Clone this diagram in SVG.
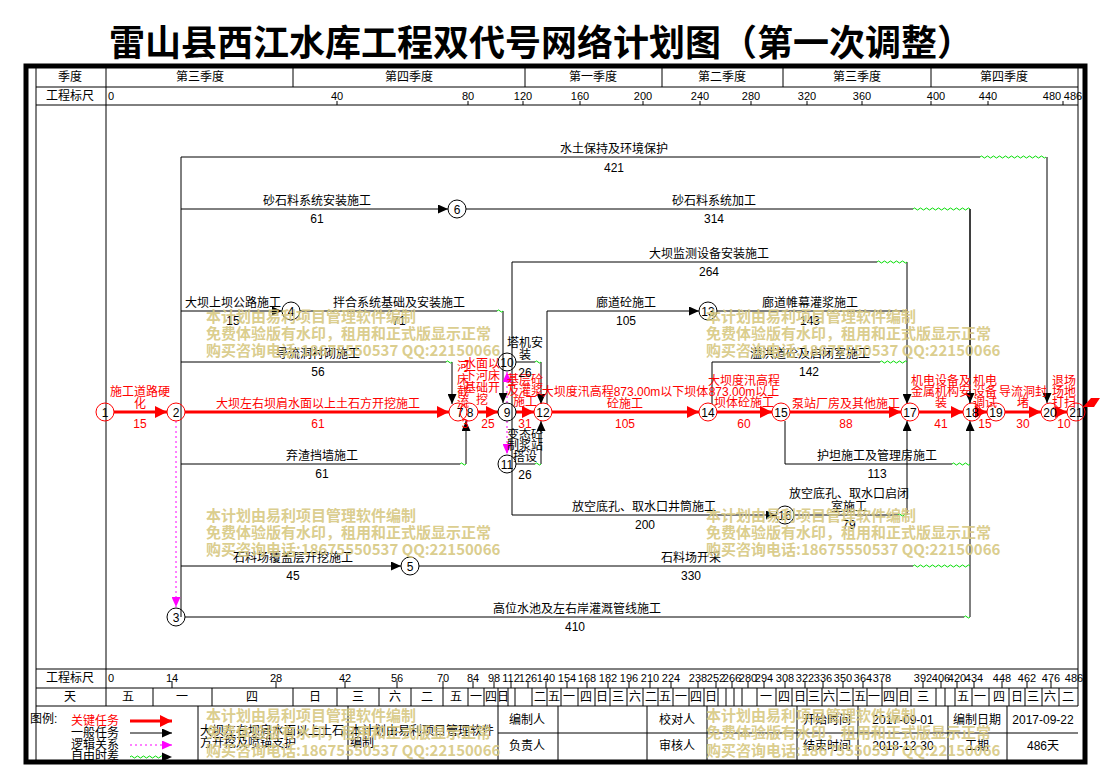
<svg xmlns="http://www.w3.org/2000/svg" width="1101" height="765" viewBox="0 0 1101 765">
<defs>
<style>
text{font-family:"Liberation Sans","Noto Sans CJK SC",sans-serif;font-size:12px;fill:#000}
.m{text-anchor:middle}
.rd{fill:#f00}
.sc{font-size:11px}
.ti{font-family:"Noto Sans CJK SC",sans-serif;font-size:36px;font-weight:bold}
.wm{font-family:"Noto Sans CJK SC","Liberation Sans",sans-serif;font-size:15px;font-weight:bold;fill:#d6c77f;fill-opacity:0.9}
.g{stroke:#000;stroke-width:1;fill:none}
.thk{stroke:#000;stroke-width:5;fill:none}
.k{stroke:#000;stroke-width:1;fill:none}
.ka{stroke:#000;stroke-width:1;fill:none;marker-end:url(#ab)}
.cr{stroke:#f00;stroke-width:3;fill:none;marker-end:url(#ar)}
.dm{stroke:#f0f;stroke-width:1;stroke-dasharray:2 3;fill:none;marker-end:url(#am)}
.wv{stroke:#0d0;stroke-width:1;fill:none}
.nb{fill:none;stroke:#000;stroke-width:1}
.nr{fill:none;stroke:#f00;stroke-width:1}
</style>
<marker id="ab" markerUnits="userSpaceOnUse" markerWidth="11" markerHeight="9" refX="10" refY="4.5" orient="auto"><path d="M0,0 L10,4.5 L0,9 z" fill="#000"/></marker>
<marker id="ar" markerUnits="userSpaceOnUse" markerWidth="13" markerHeight="12" refX="12" refY="6" orient="auto"><path d="M0,0 L12,6 L0,12 z" fill="#f00"/></marker>
<marker id="am" markerUnits="userSpaceOnUse" markerWidth="11" markerHeight="9" refX="10" refY="4.5" orient="auto"><path d="M0,0 L10,4.5 L0,9 z" fill="#f0f"/></marker>
</defs>
<rect width="1101" height="765" fill="#fff"/>
<text class="ti m" x="541" y="56">雷山县西江水库工程双代号网络计划图（第一次调整）</text>

<g id="frame">
<rect x="26" y="66" width="1059" height="696" class="thk"/>
<path class="g" d="M36,66 V762 M36,87 H1078 M36,105 H1078 M36,669 H1078 M36,688 H1078 M36,706 H1078 M106,66 V706 M1078,66 V706 M293,66 V87 M525,66 V87 M662,66 V87 M783,66 V87 M931,66 V87"/>
<path class="g" d="M337,101 V105 M468,101 V105 M523,101 V105 M580,101 V105 M643,101 V105 M700,101 V105 M751,101 V105 M807,101 V105 M862,101 V105 M931,101 V105 M988,101 V105 M1063,101 V105"/>
<path class="g" d="M172,681 V688 M276,681 V688 M345,681 V688 M397,681 V688 M443,681 V688 M473,681 V688 M494,681 V688 M511,681 V688 M528,681 V688 M546,681 V688 M567,681 V688 M587,681 V688 M608,681 V688 M629,681 V688 M650,681 V688 M671,681 V688 M698,681 V688 M716,681 V688 M732,681 V688 M748,681 V688 M764,681 V688 M785,681 V688 M805,681 V688 M823,681 V688 M843,681 V688 M863,681 V688 M882,681 V688 M923,681 V688 M941,681 V688 M957,681 V688 M974,681 V688 M1002,681 V688 M1027,681 V688 M1051,681 V688"/>
<path class="g" d="M153,688V706M212,688V706M293,688V706M337,688V706M379,688V706M411,688V706M443,688V706M468,688V706M484,688V706M498,688V706M508,688V706M515,688V706M532,688V706M547,688V706M561,688V706M578,688V706M595,688V706M610,688V706M627,688V706M643,688V706M658,688V706M673,688V706M689,688V706M704,688V706M718,688V706M726,688V706M734,688V706M742,688V706M757,688V706M776,688V706M792,688V706M807,688V706M822,688V706M837,688V706M853,688V706M867,688V706M882,688V706M897,688V706M911,688V706M936,688V706M945,688V706M955,688V706M972,688V706M989,688V706M1009,688V706M1025,688V706M1042,688V706M1059,688V706"/>
<path class="g" d="M198,706V762M348,706V762M498,706V762M558,706V762M647,706V762M707,706V762M797,706V762M858,706V762M948,706V762M1007,706V762M498,733H1078"/>
<text class="m" x="70" y="81">季度</text>
<text class="m" x="70" y="100">工程标尺</text>
<text class="m" x="200" y="81">第三季度</text>
<text class="m" x="409" y="81">第四季度</text>
<text class="m" x="593" y="81">第一季度</text>
<text class="m" x="722" y="81">第二季度</text>
<text class="m" x="857" y="81">第三季度</text>
<text class="m" x="1004" y="81">第四季度</text>
<g class="sc">
<text class="sc" x="108" y="100">0</text>
<text class="m sc" x="337" y="100">40</text><text class="m sc" x="468" y="100">80</text><text class="m sc" x="523" y="100">120</text><text class="m sc" x="580" y="100">160</text><text class="m sc" x="643" y="100">200</text><text class="m sc" x="700" y="100">240</text><text class="m sc" x="751" y="100">280</text><text class="m sc" x="807" y="100">320</text><text class="m sc" x="862" y="100">360</text><text class="m sc" x="936" y="100">400</text><text class="m sc" x="988" y="100">440</text><text class="m sc" x="1052" y="100">480</text><text class="m sc" x="1073" y="100">486</text>
<text class="sc" x="108" y="682">0</text>
<text class="m sc" x="172" y="682">14</text><text class="m sc" x="276" y="682">28</text><text class="m sc" x="345" y="682">42</text><text class="m sc" x="397" y="682">56</text><text class="m sc" x="443" y="682">70</text><text class="m sc" x="473" y="682">84</text><text class="m sc" x="494" y="682">98</text><text class="m sc" x="511" y="682">112</text><text class="m sc" x="528" y="682">126</text><text class="m sc" x="546" y="682">140</text><text class="m sc" x="567" y="682">154</text><text class="m sc" x="587" y="682">168</text><text class="m sc" x="608" y="682">182</text><text class="m sc" x="629" y="682">196</text><text class="m sc" x="650" y="682">210</text><text class="m sc" x="671" y="682">224</text><text class="m sc" x="698" y="682">238</text><text class="m sc" x="716" y="682">252</text><text class="m sc" x="732" y="682">266</text><text class="m sc" x="748" y="682">280</text><text class="m sc" x="764" y="682">294</text><text class="m sc" x="785" y="682">308</text><text class="m sc" x="805" y="682">322</text><text class="m sc" x="823" y="682">336</text><text class="m sc" x="843" y="682">350</text><text class="m sc" x="863" y="682">364</text><text class="m sc" x="882" y="682">378</text><text class="m sc" x="923" y="682">392</text><text class="m sc" x="941" y="682">406</text><text class="m sc" x="957" y="682">420</text><text class="m sc" x="974" y="682">434</text><text class="m sc" x="1002" y="682">448</text><text class="m sc" x="1027" y="682">462</text><text class="m sc" x="1051" y="682">476</text><text class="m sc" x="1074" y="682">486</text>
</g>
<text class="m" x="70" y="682">工程标尺</text>
<text class="m" x="70" y="701">天</text>
<text class="m" x="128" y="701">五</text><text class="m" x="182" y="701">一</text><text class="m" x="252" y="701">四</text><text class="m" x="315" y="701">日</text><text class="m" x="358" y="701">三</text><text class="m" x="395" y="701">六</text><text class="m" x="427" y="701">二</text><text class="m" x="456" y="701">五</text><text class="m" x="476" y="701">一</text><text class="m" x="491" y="701">四</text><text class="m" x="503" y="701">日</text><text class="m" x="540" y="701">二</text><text class="m" x="554" y="701">五</text><text class="m" x="569" y="701">一</text><text class="m" x="586" y="701">四</text><text class="m" x="602" y="701">日</text><text class="m" x="618" y="701">三</text><text class="m" x="635" y="701">六</text><text class="m" x="651" y="701">二</text><text class="m" x="665" y="701">五</text><text class="m" x="681" y="701">一</text><text class="m" x="696" y="701">四</text><text class="m" x="711" y="701">日</text><text class="m" x="766" y="701">一</text><text class="m" x="784" y="701">四</text><text class="m" x="800" y="701">日</text><text class="m" x="814" y="701">三</text><text class="m" x="829" y="701">六</text><text class="m" x="845" y="701">二</text><text class="m" x="860" y="701">五</text><text class="m" x="874" y="701">一</text><text class="m" x="889" y="701">四</text><text class="m" x="904" y="701">日</text><text class="m" x="923" y="701">三</text><text class="m" x="963" y="701">五</text><text class="m" x="980" y="701">一</text><text class="m" x="999" y="701">四</text><text class="m" x="1017" y="701">日</text><text class="m" x="1033" y="701">三</text><text class="m" x="1050" y="701">六</text><text class="m" x="1068" y="701">二</text>
</g>

<g id="legend">
<text x="30" y="723">图例:</text>
<text class="m rd" x="95" y="725">关键任务</text>
<text class="m" x="95" y="737">一般任务</text>
<text class="m" x="95" y="749">逻辑关系</text>
<text class="m" x="95" y="760">自由时差</text>
<path class="cr" d="M130,721 H172"/>
<path class="ka" d="M130,733 H172"/>
<path class="dm" d="M130,745 H172"/>
<path class="wv" d="M130,757q1.5,-2 3,0t3,0 3,0 3,0 3,0 3,0 3,0 3,0 3,0 3,0 3,0"/>
<polygon points="162,752.5 172,757 162,761.5" fill="#000"/>
<text x="200" y="735">大坝左右坝肩水面以上土石</text>
<text x="200" y="747">方开挖及喷锚支护</text>
<text x="350" y="735">本计划由易利项目管理软件</text>
<text x="350" y="747">编制</text>
<text class="m" x="527" y="724">编制人</text>
<text class="m" x="527" y="750">负责人</text>
<text class="m" x="677" y="724">校对人</text>
<text class="m" x="677" y="750">审核人</text>
<text class="m" x="827" y="724">开始时间</text>
<text class="m" x="827" y="750">结束时间</text>
<text class="m" x="903" y="724">2017-09-01</text>
<text class="m" x="903" y="750">2018-12-30</text>
<text class="m" x="977" y="724">编制日期</text>
<text class="m" x="977" y="750">工期</text>
<text class="m" x="1043" y="724">2017-09-22</text>
<text class="m" x="1043" y="750">486天</text>
</g>

<g id="connectors">
<path class="k" d="M181,157 V617 M181,157 H980 M466,209 H913 M970,209 V403 M300,311 H497 M181,362 H446 M181,464 H460 M185,617 H964 M512,262 V515 M512,262 H877 M717,311 H907 M712,404 V362 H880 M516,362 H535 M516,464 H535 M794,515 H898 M785,421 V464 H952 M419,566 H913"/>
<path class="ka" d="M1047,157 V403"/>
<path class="ka" d="M181,209 H448"/>
<path class="ka" d="M970,209 V403"/>
<path class="ka" d="M181,311 H282"/>
<path class="ka" d="M503,311 V403"/>
<path class="ka" d="M452,362 V404"/>
<path class="ka" d="M466,464 V421"/>
<path class="ka" d="M181,566 H401"/>
<path class="ka" d="M970,617 V421"/>
<path class="ka" d="M907,262 V404"/>
<path class="ka" d="M547,404 V311 H699"/>
<path class="ka" d="M541,362 V404"/>
<path class="ka" d="M541,464 V421"/>
<path class="ka" d="M512,515 H776"/>
<path class="ka" d="M907,515 V421"/>
<path class="wv" d="M980,157q1.5,-2 3,0t3,0 3,0 3,0 3,0 3,0 3,0 3,0 3,0 3,0 3,0 3,0 3,0 3,0 3,0 3,0 3,0 3,0 3,0 3,0 3,0 3,0"/>
<path class="wv" d="M913,209q1.5,-2 3,0t3,0 3,0 3,0 3,0 3,0 3,0 3,0 3,0 3,0 3,0 3,0 3,0 3,0 3,0 3,0 3,0 3,0 3,0"/>
<path class="wv" d="M877,262q1.5,-2 3,0t3,0 3,0 3,0 3,0 3,0 3,0 3,0 3,0 3,0"/>
<path class="wv" d="M880,362q1.5,-2 3,0t3,0 3,0 3,0 3,0 3,0 3,0 3,0 3,0"/>
<path class="wv" d="M497,311q1.5,-2 3,0t3,0"/>
<path class="wv" d="M446,362q1.5,-2 3,0t3,0"/>
<path class="wv" d="M460,464q1.5,-2 3,0t3,0"/>
<path class="wv" d="M535,362q1.5,-2 3,0t3,0"/>
<path class="wv" d="M535,464q1.5,-2 3,0t3,0"/>
<path class="wv" d="M952,464q1.5,-2 3,0t3,0 3,0 3,0 3,0 3,0"/>
<path class="wv" d="M898,515q1.5,-2 3,0t3,0 3,0"/>
<path class="wv" d="M913,566q1.5,-2 3,0t3,0 3,0 3,0 3,0 3,0 3,0 3,0 3,0 3,0 3,0 3,0 3,0 3,0 3,0 3,0 3,0 3,0 3,0"/>
<path class="wv" d="M964,617q1.5,-2 3,0t3,0"/>
<path class="dm" d="M176,421 V607"/>
<path class="dm" d="M507,403 V372"/>
<path class="dm" d="M507,421 V454"/>
<path class="cr" d="M114,412 H167"/>
<path class="cr" d="M185,412 H449"/>
<path class="cr" d="M478,412 H498"/>
<path class="cr" d="M516,412 H534"/>
<path class="cr" d="M552,412 H699"/>
<path class="cr" d="M717,412 H772"/>
<path class="cr" d="M790,412 H901"/>
<path class="cr" d="M919,412 H963"/>
<path class="cr" d="M981,412 H987"/>
<path class="cr" d="M1005,412 H1041"/>
<path class="cr" d="M1059,412 H1067"/>
<polygon points="1083,407 1091,398 1100,398 1094,407" fill="#f00"/>
</g>

<g id="labels">
<text class="m rd" x="140" y="396">施工道路硬</text><text class="m rd" x="140" y="408">化</text><text class="m rd" x="140" y="428">15</text>
<text class="m rd" x="318" y="408">大坝左右坝肩水面以上土石方开挖施工</text><text class="m rd" x="318" y="428">61</text>
<text class="m rd" x="463" y="371">河</text><text class="m rd" x="463" y="384">床</text><text class="m rd" x="463" y="396">截</text><text class="m rd" x="463" y="407">流</text><text class="m rd" x="465" y="428">3</text>
<text class="m rd" x="482" y="368">水面以</text><text class="m rd" x="482" y="380">下河床</text><text class="m rd" x="482" y="392">基础开</text><text class="m rd" x="482" y="404">挖</text><text class="m rd" x="488" y="428">25</text>
<text class="m rd" x="525" y="384">基层砼</text><text class="m rd" x="525" y="395">及灌浆</text><text class="m rd" x="525" y="406">施工</text><text class="m rd" x="525" y="428">31</text>
<text class="m rd" x="625" y="396">大坝度汛高程873.00m以下坝体</text><text class="m rd" x="625" y="408">砼施工</text><text class="m rd" x="625" y="428">105</text>
<text class="m rd" x="744" y="385">大坝度汛高程</text><text class="m rd" x="744" y="396">873.00m以上</text><text class="m rd" x="744" y="407">坝体砼施工</text><text class="m rd" x="744" y="428">60</text>
<text class="m rd" x="846" y="408">泵站厂房及其他施工</text><text class="m rd" x="846" y="428">88</text>
<text class="m rd" x="941" y="385">机电设备及</text><text class="m rd" x="941" y="396">金属机构安</text><text class="m rd" x="941" y="407">装</text><text class="m rd" x="941" y="428">41</text>
<text class="m rd" x="985" y="385">机电</text><text class="m rd" x="985" y="396">设备</text><text class="m rd" x="985" y="407">调试</text><text class="m rd" x="985" y="428">15</text>
<text class="m rd" x="1023" y="396">导流洞封</text><text class="m rd" x="1023" y="407">堵</text><text class="m rd" x="1023" y="428">30</text>
<text class="m rd" x="1064" y="385">退场</text><text class="m rd" x="1064" y="396">场地</text><text class="m rd" x="1064" y="407">打扫</text><text class="m rd" x="1064" y="428">10</text>
<text class="m" x="614" y="153">水土保持及环境保护</text><text class="m" x="614" y="172">421</text>
<text class="m" x="317" y="205">砂石料系统安装施工</text><text class="m" x="317" y="223">61</text>
<text class="m" x="714" y="205">砂石料系统加工</text><text class="m" x="714" y="223">314</text>
<text class="m" x="709" y="258">大坝监测设备安装施工</text><text class="m" x="709" y="276">264</text>
<text class="m" x="233" y="307">大坝上坝公路施工</text><text class="m" x="233" y="325">15</text>
<text class="m" x="399" y="307">拌合系统基础及安装施工</text><text class="m" x="399" y="325">71</text>
<text class="m" x="626" y="307">廊道砼施工</text><text class="m" x="626" y="325">105</text>
<text class="m" x="810" y="307">廊道帷幕灌浆施工</text><text class="m" x="810" y="325">143</text>
<text class="m" x="318" y="358">导流洞衬砌施工</text><text class="m" x="318" y="376">56</text>
<text class="m" x="525" y="347">塔机安</text><text class="m" x="525" y="359">装</text><text class="m" x="525" y="377">26</text>
<text class="m" x="810" y="358">溢洪道砼及启闭室施工</text><text class="m" x="809" y="376">142</text>
<text class="m" x="322" y="460">弃渣挡墙施工</text><text class="m" x="322" y="478">61</text>
<text class="m" x="525" y="439">变态砼</text><text class="m" x="525" y="450">制浆站</text><text class="m" x="525" y="461">搭设</text><text class="m" x="525" y="479">26</text>
<text class="m" x="877" y="460">护坦施工及管理房施工</text><text class="m" x="877" y="478">113</text>
<text class="m" x="644" y="511">放空底孔、取水口井筒施工</text><text class="m" x="645" y="529">200</text>
<text class="m" x="849" y="498">放空底孔、取水口启闭</text><text class="m" x="849" y="511">室施工</text><text class="m" x="849" y="529">79</text>
<text class="m" x="293" y="562">石料场覆盖层开挖施工</text><text class="m" x="293" y="580">45</text>
<text class="m" x="691" y="562">石料场开采</text><text class="m" x="691" y="580">330</text>
<text class="m" x="577" y="613">高位水池及左右岸灌溉管线施工</text><text class="m" x="575" y="631">410</text>
</g>

<g id="n1"><circle class="nr" cx="105" cy="412" r="9"/><text class="m" x="105" y="416.5">1</text></g>
<g id="n2"><circle class="nr" cx="176" cy="412" r="9"/><text class="m" x="176" y="416.5">2</text></g>
<g id="n3"><circle class="nb" cx="176" cy="617" r="9"/><text class="m" x="176" y="621.5">3</text></g>
<g id="n4"><circle class="nb" cx="291" cy="311" r="9"/><text class="m" x="291" y="315.5">4</text></g>
<g id="n5"><circle class="nb" cx="410" cy="566" r="9"/><text class="m" x="410" y="570.5">5</text></g>
<g id="n6"><circle class="nb" cx="457" cy="209" r="9"/><text class="m" x="457" y="213.5">6</text></g>
<g id="n7"><circle class="nr" cx="458" cy="412" r="9"/><text class="m" x="460" y="416.5">7</text></g>
<g id="n8"><circle class="nr" cx="469" cy="412" r="9"/><text class="m" x="470" y="416.5">8</text></g>
<g id="n9"><circle class="nb" cx="507" cy="412" r="9"/><text class="m" x="507" y="416.5">9</text></g>
<g id="n10"><circle class="nb" cx="507" cy="362" r="9"/><text class="m" x="507" y="366.5">10</text></g>
<g id="n11"><circle class="nb" cx="507" cy="464" r="9"/><text class="m" x="507" y="468.5">11</text></g>
<g id="n12"><circle class="nr" cx="543" cy="412" r="9"/><text class="m" x="543" y="416.5">12</text></g>
<g id="n13"><circle class="nb" cx="708" cy="311" r="9"/><text class="m" x="708" y="315.5">13</text></g>
<g id="n14"><circle class="nr" cx="708" cy="412" r="9"/><text class="m" x="708" y="416.5">14</text></g>
<g id="n15"><circle class="nr" cx="781" cy="412" r="9"/><text class="m" x="781" y="416.5">15</text></g>
<g id="n16"><circle class="nb" cx="785" cy="515" r="9"/><text class="m" x="785" y="519.5">16</text></g>
<g id="n17"><circle class="nr" cx="910" cy="412" r="9"/><text class="m" x="910" y="416.5">17</text></g>
<g id="n18"><circle class="nr" cx="972" cy="412" r="9"/><text class="m" x="972" y="416.5">18</text></g>
<g id="n19"><circle class="nr" cx="996" cy="412" r="9"/><text class="m" x="996" y="416.5">19</text></g>
<g id="n20"><circle class="nr" cx="1050" cy="412" r="9"/><text class="m" x="1050" y="416.5">20</text></g>
<g id="n21"><circle class="nr" cx="1076" cy="412" r="9"/><text class="m" x="1076" y="416.5">21</text></g>

<g id="watermarks">
<text class="wm" x="206" y="322">本计划由易利项目管理软件编制</text>
<text class="wm" x="206" y="339">免费体验版有水印，租用和正式版显示正常</text>
<text class="wm" x="206" y="356">购买咨询电话:18675550537 QQ:22150066</text>
<text class="wm" x="706" y="322">本计划由易利项目管理软件编制</text>
<text class="wm" x="706" y="339">免费体验版有水印，租用和正式版显示正常</text>
<text class="wm" x="706" y="356">购买咨询电话:18675550537 QQ:22150066</text>
<text class="wm" x="206" y="521">本计划由易利项目管理软件编制</text>
<text class="wm" x="206" y="538">免费体验版有水印，租用和正式版显示正常</text>
<text class="wm" x="206" y="555">购买咨询电话:18675550537 QQ:22150066</text>
<text class="wm" x="706" y="521">本计划由易利项目管理软件编制</text>
<text class="wm" x="706" y="538">免费体验版有水印，租用和正式版显示正常</text>
<text class="wm" x="706" y="555">购买咨询电话:18675550537 QQ:22150066</text>
<text class="wm" x="206" y="721">本计划由易利项目管理软件编制</text>
<text class="wm" x="206" y="738">免费体验版有水印，租用和正式版显示正常</text>
<text class="wm" x="206" y="756">购买咨询电话:18675550537 QQ:22150066</text>
<text class="wm" x="706" y="721">本计划由易利项目管理软件编制</text>
<text class="wm" x="706" y="738">免费体验版有水印，租用和正式版显示正常</text>
<text class="wm" x="706" y="756">购买咨询电话:18675550537 QQ:22150066</text>
</g>
</svg>
